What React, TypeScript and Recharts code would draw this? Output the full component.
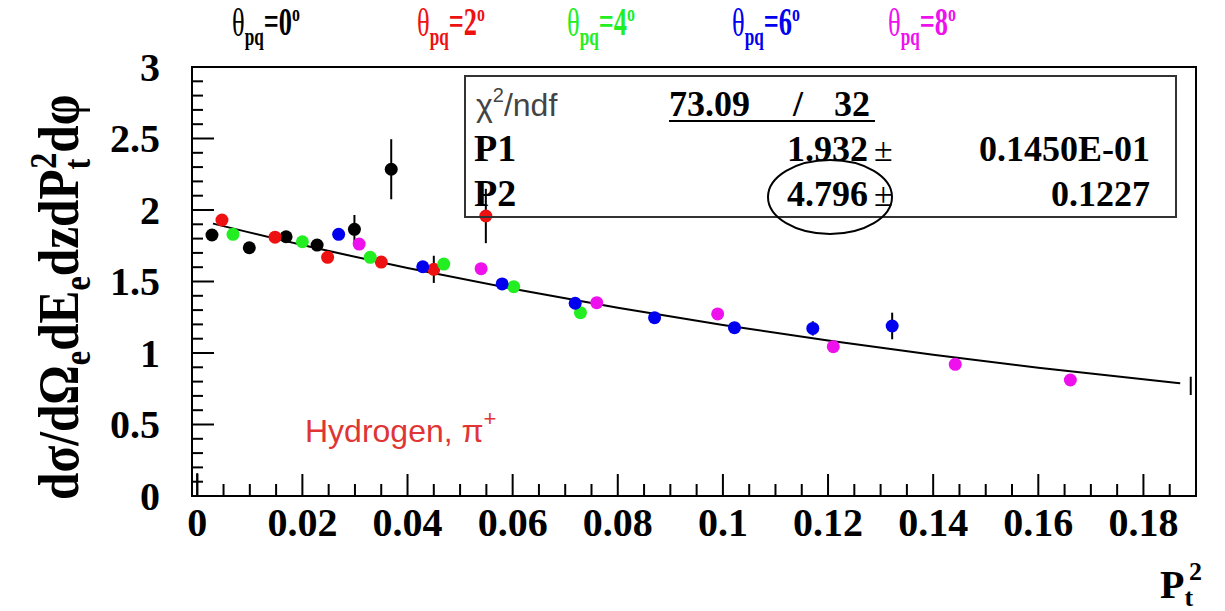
import React from 'react';
import { ComposedChart, Scatter, Line, XAxis, YAxis, ErrorBar, ReferenceArea } from 'recharts';

// ---- data ----
const theta0 = [
  { x: 0.0028, y: 1.825, e: 0.02 },
  { x: 0.0099, y: 1.736, e: 0.02 },
  { x: 0.0169, y: 1.813, e: 0.02 },
  { x: 0.0228, y: 1.755, e: 0.04 },
  { x: 0.0299, y: 1.865, e: 0.1 },
  { x: 0.0369, y: 2.285, e: 0.21 },
];
const theta2 = [
  { x: 0.0047, y: 1.93, e: 0.0 },
  { x: 0.0148, y: 1.81, e: 0.02 },
  { x: 0.0248, y: 1.669, e: 0.0 },
  { x: 0.035, y: 1.636, e: 0.04 },
  { x: 0.045, y: 1.585, e: 0.095 },
  { x: 0.0549, y: 1.958, e: 0.19 },
];
const theta4 = [
  { x: 0.0068, y: 1.83, e: 0.02 },
  { x: 0.02, y: 1.778, e: 0.0 },
  { x: 0.0329, y: 1.669, e: 0.0 },
  { x: 0.0469, y: 1.622, e: 0.0 },
  { x: 0.0602, y: 1.464, e: 0.02 },
  { x: 0.0729, y: 1.282, e: 0.03 },
];
const theta6 = [
  { x: 0.0269, y: 1.83, e: 0.0 },
  { x: 0.0429, y: 1.603, e: 0.0 },
  { x: 0.058, y: 1.483, e: 0.0 },
  { x: 0.0719, y: 1.348, e: 0.02 },
  { x: 0.087, y: 1.247, e: 0.0 },
  { x: 0.1022, y: 1.177, e: 0.02 },
  { x: 0.1171, y: 1.172, e: 0.05 },
  { x: 0.1322, y: 1.189, e: 0.093 },
];
const theta8 = [
  { x: 0.0308, y: 1.762, e: 0.03 },
  { x: 0.054, y: 1.59, e: 0.02 },
  { x: 0.076, y: 1.352, e: 0.0 },
  { x: 0.099, y: 1.273, e: 0.0 },
  { x: 0.121, y: 1.044, e: 0.0 },
  { x: 0.1442, y: 0.921, e: 0.0 },
  { x: 0.1661, y: 0.811, e: 0.0 },
];
// error bars drawn without a marker
const bareBars = [
  { x: 0.0, y: 0.08, e: 0.08 },
  { x: 0.189, y: 0.77, e: 0.064 },
];
// fitted curve
const fitCurve = [
  { x: 0.003, y: 1.905 },
  { x: 0.02, y: 1.755 },
  { x: 0.04, y: 1.595 },
  { x: 0.06, y: 1.449 },
  { x: 0.08, y: 1.317 },
  { x: 0.1, y: 1.196 },
  { x: 0.12, y: 1.087 },
  { x: 0.14, y: 0.987 },
  { x: 0.16, y: 0.897 },
  { x: 0.187, y: 0.788 },
];

const xMajor = [0, 0.02, 0.04, 0.06, 0.08, 0.1, 0.12, 0.14, 0.16, 0.18];
const xTicks = [
  0, 0.005, 0.01, 0.015, 0.02, 0.025, 0.03, 0.035, 0.04, 0.045, 0.05, 0.055, 0.06, 0.065,
  0.07, 0.075, 0.08, 0.085, 0.09, 0.095, 0.1, 0.105, 0.11, 0.115, 0.12, 0.125, 0.13, 0.135,
  0.14, 0.145, 0.15, 0.155, 0.16, 0.165, 0.17, 0.175, 0.18, 0.185,
];
const yMajor = [0, 0.5, 1, 1.5, 2, 2.5, 3];
const yTicks = [
  0, 0.1, 0.2, 0.3, 0.4, 0.5, 0.6, 0.7, 0.8, 0.9, 1, 1.1, 1.2, 1.3, 1.4, 1.5, 1.6, 1.7, 1.8,
  1.9, 2, 2.1, 2.2, 2.3, 2.4, 2.5, 2.6, 2.7, 2.8, 2.9, 3,
];
const seriesNames = ['θ=0', 'θ=2', 'θ=4', 'θ=6', 'θ=8'];
const titleDegrees = ['0', '2', '4', '6', '8'];

const SERIF = "'Liberation Serif', 'Times New Roman', serif";
const SANS = "'Liberation Sans', Arial, sans-serif";
const COLORS = ['#000000', '#ee1111', '#22ee22', '#0000ee', '#ee11ee'];
const Y_MARGIN = 32;
const X_MARGIN = 12;

const YTick = (props: any) => {
  const { x, y, payload } = props;
  const v = payload.value;
  const major = yMajor.includes(v);
  const ax = x + Y_MARGIN;
  return (
    <g>
      <line x1={ax} x2={ax + (major ? 22 : 11)} y1={y} y2={y} stroke="#000" strokeWidth={2} />
      {major && (
        <text x={x} y={y} dy="0.34em" textAnchor="end" fontFamily={SERIF} fontWeight="bold" fontSize={40} fill="#000">
          {String(v)}
        </text>
      )}
    </g>
  );
};

const XTick = (props: any) => {
  const { x, y, payload } = props;
  const v = payload.value;
  const major = xMajor.includes(v);
  const ay = y - X_MARGIN;
  return (
    <g>
      <line x1={x} x2={x} y1={ay} y2={ay - (major ? 22 : 12)} stroke="#000" strokeWidth={2} />
      {major && (
        <text x={x} y={y} dy="0.7em" textAnchor="middle" fontFamily={SERIF} fontWeight="bold" fontSize={40} fill="#000">
          {String(v)}
        </text>
      )}
    </g>
  );
};

const dot = (color: string) => (p: any) => <circle cx={p.cx} cy={p.cy} r={6.5} fill={color} />;
const noDot = () => <g />;

export default function App() {
  const groups = [theta0, theta2, theta4, theta6, theta8];
  const titleX = [232, 417, 567, 732, 888];
  return (
    <div style={{ position: 'absolute', left: 0, top: 0, width: 1225, height: 611, background: '#fff' }}>
      <ComposedChart width={1225} height={611} margin={{ top: 67, right: 29, bottom: 0, left: 0 }}>
        <XAxis
          type="number"
          dataKey="x"
          domain={[-0.001, 0.19]}
          allowDataOverflow
          ticks={xTicks}
          interval={0}
          height={115}
          tickSize={0}
          tickMargin={X_MARGIN}
          tickLine={false}
          axisLine={{ stroke: '#000', strokeWidth: 2 }}
          tick={<XTick />}
        />
        <YAxis
          type="number"
          dataKey="y"
          domain={[0, 3]}
          allowDataOverflow
          ticks={yTicks}
          interval={0}
          width={192}
          tickSize={0}
          tickMargin={Y_MARGIN}
          tickLine={false}
          axisLine={{ stroke: '#000', strokeWidth: 2 }}
          tick={<YTick />}
        />
        <ReferenceArea x1={-0.001} x2={0.19} y1={0} y2={3} fill="none" stroke="#000" strokeWidth={2} ifOverflow="visible" />
        <Line data={fitCurve} dataKey="y" stroke="#000" strokeWidth={2} dot={false} type="monotone" isAnimationActive={false} />
        <Scatter data={bareBars} shape={noDot} isAnimationActive={false}>
          <ErrorBar dataKey="e" direction="y" width={0} stroke="#000" strokeWidth={2} />
        </Scatter>
        {groups.map((g, i) => (
          <Scatter key={i} name={seriesNames[i]} data={g} shape={dot(COLORS[i])} isAnimationActive={false}>
            <ErrorBar dataKey="e" direction="y" width={0} stroke="#000" strokeWidth={2} />
          </Scatter>
        ))}
      </ComposedChart>

      <svg width={1225} height={611} style={{ position: 'absolute', left: 0, top: 0, pointerEvents: 'none' }}>
        {/* title legend */}
        {titleDegrees.map((d, i) => (
          <text key={i} transform={`translate(${titleX[i]},36) scale(0.66,1)`} fill={COLORS[i]} fontFamily={SERIF} fontSize={40}>
            θ
            <tspan fontSize={26} fontWeight="bold" dy={9}>pq</tspan>
            <tspan fontSize={40} fontWeight="bold" dy={-10}>={d}</tspan>
            <tspan fontSize={24} fontWeight="bold" dy={-14}>o</tspan>
          </text>
        ))}

        {/* y axis title */}
        <text transform="translate(78,500) rotate(-90) scale(0.85,1)" fontFamily={SERIF} fontWeight="bold" fontSize={58} fill="#000">
          dσ/dΩ
          <tspan fontSize={38} dy={12}>e</tspan>
          <tspan dy={-12}>dE</tspan>
          <tspan fontSize={38} dy={12}>e</tspan>
          <tspan dy={-12}>dzdP</tspan>
          <tspan fontSize={38} dy={12}>t</tspan>
          <tspan fontSize={38} dx={-12} dy={-34}>2</tspan>
          <tspan dy={22}>dφ</tspan>
        </text>

        {/* x axis title */}
        <text x={1160} y={598} fontFamily={SERIF} fontWeight="bold" fontSize={40} fill="#000">
          P<tspan fontSize={26} dy={8}>t</tspan>
          <tspan fontSize={26} dx={-4} dy={-26}>2</tspan>
        </text>

        {/* fit statistics box */}
        <rect x={465} y={76} width={711} height={141} fill="none" stroke="#333" strokeWidth={2} />
        <text x={476} y={116} fontFamily={SANS} fontSize={32} fill="#444">
          χ<tspan fontSize={20} dy={-14}>2</tspan>
          <tspan fontSize={32} dy={14}>/ndf</tspan>
        </text>
        <text x={669} y={116} fontFamily={SERIF} fontWeight="bold" fontSize={36} fill="#000">73.09</text>
        <text x={793} y={116} fontFamily={SERIF} fontWeight="bold" fontSize={36} fill="#000">/</text>
        <text x={870} y={116} textAnchor="end" fontFamily={SERIF} fontWeight="bold" fontSize={36} fill="#000">32</text>
        <line x1={669} x2={875} y1={121} y2={121} stroke="#000" strokeWidth={2} />

        <text x={474} y={161} fontFamily={SERIF} fontWeight="bold" fontSize={38} fill="#000">P1</text>
        <text x={868} y={161} textAnchor="end" fontFamily={SERIF} fontWeight="bold" fontSize={36} fill="#000">1.932</text>
        <text x={874} y={161} fontFamily={SERIF} fontSize={34} fill="#000">±</text>
        <text x={1150} y={161} textAnchor="end" fontFamily={SERIF} fontWeight="bold" fontSize={36} fill="#000">0.1450E-01</text>

        <text x={474} y={206} fontFamily={SERIF} fontWeight="bold" fontSize={38} fill="#000">P2</text>
        <text x={868} y={206} textAnchor="end" fontFamily={SERIF} fontWeight="bold" fontSize={36} fill="#000">4.796</text>
        <text x={874} y={206} fontFamily={SERIF} fontSize={34} fill="#000">±</text>
        <text x={1150} y={206} textAnchor="end" fontFamily={SERIF} fontWeight="bold" fontSize={36} fill="#000">0.1227</text>

        <ellipse cx={830} cy={197} rx={62} ry={37} fill="none" stroke="#000" strokeWidth={2} />

        {/* annotation */}
        <text x={305} y={442} fontFamily={SANS} fontSize={32} fill="#e03535">
          Hydrogen, π<tspan fontSize={22} dy={-16}>+</tspan>
        </text>
      </svg>
    </div>
  );
}
